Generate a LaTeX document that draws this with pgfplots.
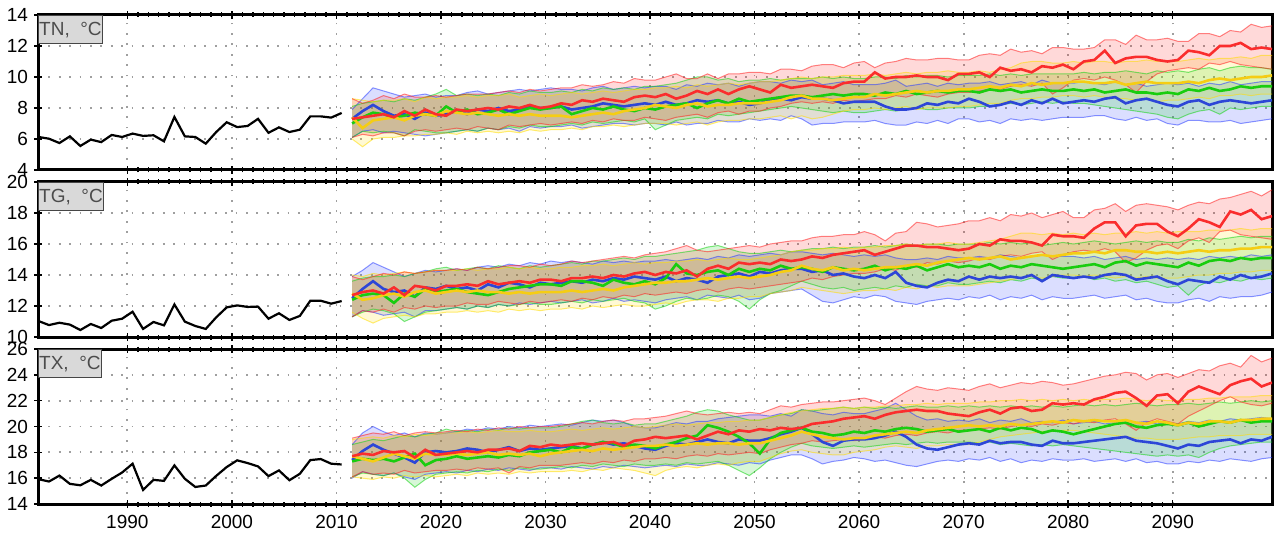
\documentclass[border=0pt]{standalone}
\usepackage{pgfplots}
\pgfplotsset{compat=1.18}
\usepackage{pgfplotstable}
\usepgfplotslibrary{fillbetween}
\usepackage{fontspec}
\setmainfont{Liberation Sans}

\definecolor{cb}{RGB}{45,70,215}
\definecolor{cg}{RGB}{25,205,15}
\definecolor{cy}{RGB}{245,205,20}
\definecolor{cr}{RGB}{250,45,45}
\definecolor{fb}{RGB}{40,60,255}
\definecolor{fg}{RGB}{20,210,20}
\definecolor{fy}{RGB}{255,220,0}
\definecolor{fr}{RGB}{255,30,30}

\newcommand\ser[2]{\pgfplotstableread[header=false,row sep=\\]{#2\\}#1}

% ---------- historical ----------
\ser\TNh{6.13\\6.02\\5.74\\6.17\\5.55\\5.96\\5.8\\6.26\\6.13\\6.35\\6.2\\6.24\\5.85\\7.42\\6.17\\6.13\\5.7\\6.45\\7.08\\6.77\\6.84\\7.3\\6.4\\6.75\\6.45\\6.6\\7.46\\7.46\\7.38\\7.68}
\ser\TGh{11.03\\10.77\\10.92\\10.8\\10.45\\10.84\\10.58\\11.05\\11.18\\11.63\\10.52\\10.97\\10.75\\12.1\\10.99\\10.71\\10.52\\11.27\\11.91\\12.04\\11.94\\11.96\\11.18\\11.53\\11.1\\11.36\\12.34\\12.34\\12.15\\12.32}
\ser\TXh{15.92\\15.74\\16.2\\15.56\\15.45\\15.87\\15.43\\15.95\\16.44\\17.12\\15.09\\15.87\\15.79\\16.99\\15.95\\15.32\\15.43\\16.18\\16.86\\17.38\\17.17\\16.91\\16.16\\16.6\\15.84\\16.34\\17.4\\17.48\\17.12\\17.06}

% ---------- TN ----------
\ser\TNbl{6.1\\6.5\\6.6\\6.4\\6.5\\6.4\\6.3\\6.2\\6.3\\6.4\\6.5\\6.6\\6.5\\6.7\\6.6\\6.7\\6.5\\6.8\\6.7\\6.8\\6.8\\6.9\\6.7\\6.8\\6.9\\7.0\\7.0\\6.9\\7.0\\7.0\\6.9\\7.1\\6.9\\7.0\\7.0\\7.2\\7.1\\7.1\\7.3\\7.2\\7.3\\7.2\\7.5\\7.3\\6.9\\7.0\\7.0\\7.1\\7.1\\7.1\\7.2\\7.0\\6.9\\6.9\\7.1\\7.0\\7.2\\7.0\\7.3\\7.3\\7.1\\7.2\\7.0\\7.3\\7.2\\7.3\\7.2\\7.3\\7.4\\7.4\\7.4\\7.5\\7.5\\7.3\\7.2\\7.4\\7.2\\7.3\\7.0\\6.9\\7.2\\7.2\\7.1\\7.1\\7.2\\7.0\\7.1\\7.2\\7.3}
\ser\TNbm{7.3\\7.8\\8.2\\7.8\\7.5\\7.6\\7.3\\7.7\\7.5\\7.6\\7.8\\7.6\\7.9\\7.8\\8.0\\7.8\\7.9\\8.1\\8.0\\8.0\\8.1\\7.9\\8.0\\8.1\\8.3\\8.2\\8.1\\8.2\\8.3\\8.2\\8.4\\8.2\\8.3\\8.5\\8.4\\8.5\\8.3\\8.4\\8.2\\8.3\\8.5\\8.6\\8.5\\8.7\\8.6\\8.6\\8.5\\8.3\\8.4\\8.4\\8.4\\8.1\\7.9\\7.9\\8.0\\8.3\\8.2\\8.4\\8.3\\8.6\\8.4\\8.1\\8.2\\8.4\\8.2\\8.5\\8.3\\8.6\\8.3\\8.4\\8.5\\8.4\\8.6\\8.7\\8.3\\8.5\\8.6\\8.4\\8.2\\8.1\\8.4\\8.5\\8.2\\8.4\\8.5\\8.4\\8.3\\8.4\\8.5}
\ser\TNbh{7.9\\8.6\\9.3\\9.1\\8.9\\8.7\\8.8\\8.9\\8.7\\8.8\\8.8\\9.0\\9.1\\8.9\\9.0\\9.1\\9.2\\9.1\\9.2\\9.3\\9.2\\9.2\\9.1\\9.3\\9.4\\9.2\\9.3\\9.4\\9.3\\9.4\\9.4\\9.2\\9.5\\9.4\\9.6\\9.5\\9.6\\9.4\\9.6\\9.7\\9.7\\9.6\\9.8\\9.7\\9.8\\9.5\\9.6\\9.7\\9.5\\9.5\\9.5\\9.6\\9.8\\9.4\\9.5\\9.6\\9.4\\9.6\\9.5\\9.6\\9.6\\9.7\\9.5\\9.6\\9.7\\9.5\\9.8\\9.6\\9.6\\9.6\\9.7\\9.6\\9.5\\9.7\\9.5\\9.6\\9.4\\9.5\\9.6\\9.5\\9.6\\9.4\\9.6\\9.5\\9.7\\9.5\\9.6\\9.7\\9.7}
\ser\TNgl{6.1\\6.5\\6.4\\6.5\\6.4\\6.2\\6.6\\6.5\\6.4\\6.4\\6.5\\6.6\\6.5\\6.7\\6.6\\6.8\\6.7\\6.9\\6.8\\6.8\\6.9\\7.0\\6.9\\7.1\\7.0\\7.1\\7.2\\7.1\\7.3\\6.6\\6.9\\7.2\\7.3\\7.4\\7.3\\7.6\\7.5\\7.6\\7.7\\7.8\\7.9\\8.0\\8.1\\8.0\\7.9\\7.8\\7.7\\7.8\\7.7\\7.7\\7.8\\7.9\\7.8\\7.9\\8.0\\7.9\\7.9\\8.0\\8.0\\8.0\\8.1\\8.1\\8.2\\8.3\\8.2\\8.3\\8.4\\8.3\\8.4\\8.3\\8.3\\8.2\\8.1\\8.0\\7.9\\7.8\\7.7\\7.6\\7.4\\7.3\\7.6\\7.8\\7.9\\7.6\\8.0\\7.9\\8.0\\8.1\\8.1}
\ser\TNgm{7.0\\7.4\\7.7\\7.6\\7.4\\7.5\\7.7\\7.6\\7.5\\8.1\\7.7\\7.9\\7.6\\7.7\\7.9\\7.6\\7.8\\8.0\\7.9\\8.0\\8.1\\7.6\\7.8\\8.0\\7.9\\8.1\\7.9\\7.8\\8.0\\7.9\\8.1\\8.2\\8.3\\8.0\\8.3\\8.5\\8.3\\8.6\\8.4\\8.5\\8.6\\8.7\\8.8\\8.8\\8.7\\8.8\\8.9\\8.8\\8.9\\8.9\\8.8\\9.0\\8.9\\9.1\\8.9\\9.0\\9.1\\9.0\\9.1\\9.1\\9.0\\9.2\\9.1\\9.2\\9.0\\9.1\\9.2\\9.1\\9.1\\9.2\\9.1\\9.2\\9.0\\9.1\\9.2\\9.0\\9.0\\8.9\\9.0\\8.9\\9.2\\9.1\\9.3\\9.1\\9.2\\9.4\\9.3\\9.4\\9.4}
\ser\TNgh{8.1\\8.3\\8.4\\8.5\\8.4\\8.6\\8.5\\8.7\\8.9\\9.2\\8.8\\8.9\\8.8\\8.9\\8.8\\9.0\\8.9\\9.1\\9.0\\9.0\\9.1\\9.0\\9.2\\9.1\\9.3\\9.2\\9.3\\9.2\\9.4\\9.4\\9.5\\9.6\\9.8\\10.0\\10.0\\9.8\\9.9\\9.7\\9.8\\9.8\\9.9\\9.8\\9.9\\9.9\\9.9\\10.0\\9.9\\10.0\\9.9\\9.9\\10.0\\10.0\\9.9\\10.1\\10.0\\10.1\\10.1\\10.0\\10.1\\10.1\\10.1\\10.2\\10.1\\10.2\\10.1\\10.2\\10.2\\10.2\\10.2\\10.2\\10.3\\10.2\\10.3\\10.3\\10.4\\10.3\\10.2\\10.4\\10.3\\10.4\\10.3\\10.5\\10.6\\10.4\\10.6\\10.7\\10.6\\10.6\\10.5}
\ser\TNyl{6.0\\5.5\\6.0\\6.1\\6.1\\6.2\\6.2\\6.3\\6.3\\6.4\\6.3\\6.5\\6.4\\6.5\\6.4\\6.5\\6.4\\6.6\\6.5\\6.6\\6.6\\6.7\\6.6\\6.8\\6.8\\6.9\\6.8\\6.9\\7.0\\7.0\\7.0\\6.9\\7.0\\7.1\\6.9\\7.1\\7.2\\7.2\\7.3\\7.3\\7.4\\7.5\\7.3\\7.5\\7.3\\7.4\\7.6\\7.8\\7.9\\7.9\\8.0\\7.9\\8.0\\8.1\\7.9\\8.0\\8.0\\8.0\\8.1\\8.1\\8.2\\8.3\\8.3\\8.5\\8.6\\8.6\\8.7\\8.7\\8.8\\8.8\\8.7\\8.8\\8.7\\8.6\\8.6\\8.5\\8.6\\8.4\\8.5\\8.5\\8.6\\8.7\\8.6\\8.8\\8.8\\8.9\\8.8\\8.9\\8.9}
\ser\TNym{7.4\\6.7\\7.2\\7.3\\7.4\\7.2\\7.5\\7.6\\7.5\\7.8\\7.7\\7.6\\7.7\\7.6\\7.5\\7.6\\7.5\\7.6\\7.5\\7.5\\7.5\\7.4\\7.5\\7.6\\7.7\\7.6\\7.8\\7.9\\8.0\\8.2\\8.1\\8.0\\8.2\\8.3\\8.1\\8.2\\8.2\\8.3\\8.3\\8.3\\8.4\\8.5\\8.7\\8.8\\8.6\\8.6\\8.5\\8.6\\8.7\\8.7\\8.9\\8.8\\8.9\\9.0\\9.1\\9.0\\9.1\\9.1\\9.2\\9.2\\9.3\\9.4\\9.3\\9.5\\9.4\\9.6\\9.5\\9.6\\9.6\\9.7\\9.7\\9.6\\9.6\\9.7\\9.5\\9.6\\9.7\\9.6\\9.6\\9.6\\9.7\\9.6\\9.8\\9.9\\9.8\\9.9\\10.0\\10.0\\10.1}
\ser\TNyh{8.6\\8.5\\8.4\\8.5\\8.5\\8.6\\8.4\\8.7\\8.6\\8.7\\8.7\\8.8\\8.7\\8.8\\8.8\\8.9\\8.7\\8.8\\8.9\\8.8\\8.9\\9.0\\8.9\\9.0\\9.1\\9.0\\9.1\\9.2\\9.2\\9.3\\9.3\\9.4\\9.3\\9.5\\9.4\\9.5\\9.6\\9.5\\9.6\\9.7\\9.7\\9.8\\9.9\\10.0\\9.9\\10.0\\10.0\\10.1\\10.1\\10.1\\10.2\\10.1\\10.2\\10.3\\10.2\\10.3\\10.3\\10.4\\10.3\\10.3\\10.4\\10.3\\10.5\\10.6\\10.9\\11.0\\11.0\\10.9\\10.9\\11.0\\10.9\\11.0\\11.0\\10.9\\11.0\\11.0\\11.1\\11.0\\11.0\\11.0\\11.1\\11.2\\11.1\\11.2\\11.2\\11.3\\11.2\\11.4\\11.4}
\ser\TNrl{6.1\\6.3\\6.2\\6.4\\6.4\\6.2\\6.5\\6.6\\6.5\\6.6\\6.7\\6.6\\6.8\\6.7\\6.6\\6.9\\6.8\\6.9\\7.0\\6.9\\7.0\\7.1\\7.0\\7.2\\7.1\\7.3\\7.2\\7.2\\7.4\\7.3\\7.2\\7.4\\7.5\\7.6\\7.4\\7.7\\7.8\\7.6\\7.8\\7.8\\8.0\\8.1\\8.3\\8.4\\8.3\\8.4\\8.3\\8.5\\8.4\\8.5\\8.6\\8.6\\8.8\\8.7\\8.9\\8.8\\8.7\\8.9\\9.0\\9.0\\9.1\\9.2\\9.2\\9.4\\9.5\\9.4\\9.6\\8.9\\9.3\\9.8\\9.9\\9.8\\10.0\\9.8\\9.5\\9.0\\9.7\\10.2\\10.4\\10.5\\10.6\\10.5\\10.9\\10.8\\11.0\\10.8\\10.7\\10.6\\10.5}
\ser\TNrm{7.3\\7.4\\7.5\\7.6\\7.4\\7.8\\7.5\\7.9\\7.6\\7.5\\7.9\\7.8\\7.9\\8.0\\7.9\\8.1\\8.0\\8.2\\8.0\\8.1\\8.3\\8.2\\8.5\\8.4\\8.6\\8.5\\8.4\\8.7\\8.8\\8.7\\8.9\\8.6\\8.8\\9.1\\8.9\\9.2\\8.9\\9.2\\9.4\\9.2\\9.0\\9.5\\9.3\\9.4\\9.5\\9.4\\9.3\\9.6\\9.7\\9.7\\10.3\\9.9\\10.0\\10.0\\10.1\\10.0\\10.0\\9.8\\10.2\\10.2\\10.3\\10.0\\10.6\\10.4\\10.5\\10.3\\10.7\\10.6\\10.8\\10.5\\11.0\\11.1\\11.7\\10.9\\11.2\\11.3\\11.3\\11.1\\11.0\\11.1\\11.7\\11.6\\11.4\\12.0\\12.0\\12.2\\11.8\\11.9\\11.8}
\ser\TNrh{8.6\\8.3\\8.5\\8.8\\8.6\\8.9\\8.7\\8.7\\8.8\\8.7\\8.8\\8.9\\8.9\\8.9\\9.0\\9.1\\9.0\\9.2\\9.1\\9.2\\9.3\\9.3\\9.5\\9.4\\9.5\\9.7\\9.6\\9.9\\9.8\\9.8\\10.0\\10.2\\9.9\\9.9\\10.2\\9.9\\10.2\\10.2\\10.3\\10.3\\10.2\\10.5\\10.5\\10.4\\10.7\\10.8\\10.8\\10.6\\10.9\\11.0\\10.6\\10.9\\11.0\\11.2\\11.1\\11.1\\11.2\\11.2\\11.1\\11.1\\11.4\\11.5\\11.4\\11.8\\11.6\\11.7\\11.5\\11.9\\11.9\\11.8\\11.8\\11.9\\12.4\\12.4\\12.1\\12.7\\12.4\\12.4\\12.5\\12.3\\12.3\\12.8\\12.8\\12.6\\13.0\\12.9\\13.4\\13.2\\13.3}

% ---------- TG ----------
\ser\TGbl{11.3\\11.7\\11.6\\11.4\\11.5\\11.6\\11.3\\11.7\\11.7\\11.8\\11.9\\11.8\\12.0\\11.9\\12.1\\12.0\\12.2\\12.1\\12.2\\12.3\\12.2\\12.3\\12.4\\12.2\\12.3\\12.5\\12.3\\12.4\\12.3\\12.2\\12.4\\12.5\\12.6\\12.4\\12.7\\12.6\\12.5\\12.7\\12.4\\12.5\\12.8\\12.9\\13.0\\13.1\\12.7\\12.3\\12.2\\12.4\\12.6\\12.5\\12.7\\12.6\\12.3\\12.2\\12.1\\12.3\\12.4\\12.5\\12.4\\12.6\\12.5\\12.7\\12.4\\12.6\\12.5\\12.7\\12.4\\12.6\\12.5\\12.5\\12.6\\12.7\\12.5\\12.6\\12.7\\12.4\\12.5\\12.3\\12.2\\12.2\\12.4\\12.5\\12.3\\12.6\\12.5\\12.6\\12.6\\12.7\\12.9}
\ser\TGbm{12.5\\13.1\\13.6\\13.1\\12.9\\13.0\\12.6\\13.2\\13.1\\13.3\\13.1\\13.2\\13.0\\13.4\\13.2\\13.5\\13.4\\13.2\\13.5\\13.4\\13.5\\13.6\\13.5\\13.7\\13.6\\13.8\\13.7\\13.9\\13.8\\13.7\\13.9\\13.6\\13.8\\13.7\\13.5\\13.9\\14.0\\14.1\\13.9\\14.2\\14.1\\14.3\\14.4\\14.4\\14.2\\14.3\\14.0\\14.1\\13.9\\13.8\\14.0\\13.8\\14.2\\13.5\\13.3\\13.2\\13.5\\13.7\\13.6\\13.9\\13.7\\13.9\\13.8\\13.9\\13.8\\14.0\\13.6\\14.0\\13.9\\13.8\\13.9\\13.8\\14.0\\14.1\\14.0\\13.7\\13.8\\13.9\\13.6\\13.4\\13.7\\13.6\\13.5\\13.9\\13.7\\14.0\\13.8\\13.9\\14.1}
\ser\TGbh{13.9\\14.3\\14.8\\14.5\\14.2\\13.9\\14.1\\14.3\\14.2\\14.3\\14.4\\14.3\\14.5\\14.6\\14.5\\14.7\\14.6\\14.8\\14.7\\14.9\\14.8\\14.9\\14.8\\14.7\\14.9\\14.8\\14.9\\14.8\\14.9\\14.9\\15.0\\14.9\\15.0\\15.1\\15.0\\15.2\\15.1\\15.3\\15.2\\15.3\\15.4\\15.3\\15.5\\15.5\\15.4\\15.3\\15.4\\15.3\\15.2\\15.3\\15.2\\15.3\\15.1\\15.0\\15.0\\15.1\\15.0\\15.2\\15.1\\15.1\\15.2\\15.1\\15.3\\15.2\\15.1\\15.2\\15.3\\15.2\\15.2\\15.2\\15.1\\15.2\\15.0\\15.1\\15.2\\15.0\\15.1\\15.0\\15.1\\15.0\\15.1\\15.0\\15.2\\15.1\\15.2\\15.1\\15.3\\15.2\\15.3}
\ser\TGgl{11.3\\11.6\\11.8\\11.7\\11.5\\11.0\\11.3\\11.6\\11.7\\11.8\\11.9\\11.8\\12.0\\11.9\\12.1\\12.0\\12.1\\12.2\\12.1\\12.1\\12.2\\12.3\\12.2\\12.4\\12.3\\12.4\\12.5\\12.3\\12.2\\11.8\\12.0\\12.3\\12.5\\12.4\\12.5\\12.7\\12.6\\12.3\\11.8\\12.4\\12.8\\13.0\\13.3\\13.6\\13.4\\13.2\\13.1\\13.2\\13.0\\13.1\\13.2\\13.1\\13.3\\13.2\\13.4\\13.3\\13.3\\13.5\\13.4\\13.4\\13.5\\13.6\\13.5\\13.7\\13.6\\13.8\\13.7\\13.9\\13.8\\13.8\\13.9\\13.7\\13.8\\13.6\\13.7\\13.5\\13.6\\13.4\\13.2\\13.3\\12.7\\13.3\\13.6\\13.5\\13.7\\13.6\\13.8\\13.7\\13.8}
\ser\TGgm{12.4\\12.7\\12.8\\12.7\\12.2\\12.8\\12.6\\13.1\\12.9\\13.0\\13.1\\12.9\\12.8\\12.7\\12.9\\13.1\\13.2\\13.3\\13.4\\13.4\\13.3\\13.6\\13.6\\13.5\\13.3\\13.7\\13.5\\13.4\\13.6\\13.4\\13.8\\14.7\\14.1\\14.0\\14.2\\14.3\\14.0\\14.4\\14.2\\14.4\\14.3\\14.6\\14.4\\14.5\\14.4\\14.2\\14.5\\14.4\\14.3\\14.4\\14.6\\14.3\\14.5\\14.4\\14.6\\14.3\\14.5\\14.7\\14.5\\14.6\\14.5\\14.7\\14.4\\14.6\\14.5\\14.7\\14.6\\14.5\\14.4\\14.5\\14.6\\14.7\\14.5\\14.8\\14.9\\14.6\\14.8\\14.7\\14.6\\14.5\\14.8\\14.6\\14.9\\15.0\\14.9\\15.1\\15.0\\15.1\\15.1}
\ser\TGgh{13.6\\13.8\\13.9\\13.9\\14.0\\13.9\\14.1\\14.2\\14.4\\14.5\\14.3\\14.4\\14.5\\14.4\\14.6\\14.5\\14.4\\14.6\\14.5\\14.6\\14.7\\14.8\\14.7\\14.9\\14.9\\15.0\\15.1\\15.0\\15.2\\15.2\\15.3\\15.4\\15.5\\15.6\\15.8\\15.9\\15.7\\15.5\\15.4\\15.4\\15.5\\15.6\\15.5\\15.6\\15.7\\15.7\\15.8\\15.7\\15.8\\15.8\\15.9\\15.8\\15.9\\16.0\\15.9\\16.0\\16.0\\15.9\\16.0\\16.0\\16.0\\16.1\\16.0\\16.1\\16.0\\16.1\\15.9\\16.0\\16.1\\16.0\\16.1\\16.2\\16.1\\16.0\\16.1\\16.2\\16.1\\16.2\\16.1\\16.1\\16.3\\16.2\\16.4\\16.3\\16.4\\16.5\\16.4\\16.5\\16.5}
\ser\TGyl{11.6\\11.2\\10.9\\11.2\\11.3\\11.4\\11.3\\11.5\\11.5\\11.6\\11.6\\11.7\\11.6\\11.7\\11.6\\11.8\\11.7\\11.8\\11.7\\11.8\\11.8\\11.9\\11.8\\12.0\\11.9\\12.0\\12.1\\12.0\\12.0\\12.1\\12.2\\12.1\\12.3\\12.4\\12.4\\12.3\\12.5\\12.5\\12.6\\12.6\\12.8\\12.9\\13.0\\13.2\\13.1\\13.0\\12.9\\12.8\\12.9\\13.0\\13.0\\13.1\\13.0\\13.2\\13.1\\13.3\\13.2\\13.3\\13.3\\13.3\\13.4\\13.5\\13.6\\13.7\\13.8\\13.9\\13.8\\13.9\\14.0\\14.0\\13.9\\14.0\\13.9\\13.8\\13.9\\13.8\\13.9\\13.8\\13.8\\13.8\\13.9\\14.0\\14.0\\14.1\\14.1\\14.2\\14.2\\14.3\\14.3}
\ser\TGym{12.8\\12.4\\12.5\\12.7\\12.8\\12.6\\12.9\\13.0\\12.8\\12.9\\13.0\\12.9\\13.0\\12.9\\12.9\\12.8\\12.9\\12.8\\12.9\\12.9\\12.9\\13.0\\12.9\\13.0\\13.1\\13.0\\13.2\\13.3\\13.4\\13.5\\13.5\\13.6\\13.6\\13.7\\13.8\\13.7\\13.8\\13.9\\13.8\\13.9\\14.0\\14.2\\14.3\\14.6\\14.4\\14.3\\14.5\\14.3\\14.4\\14.3\\14.4\\14.5\\14.5\\14.6\\14.7\\14.6\\14.8\\14.9\\15.0\\15.1\\15.0\\15.1\\15.2\\15.0\\15.1\\15.2\\15.3\\15.2\\15.3\\15.4\\15.4\\15.5\\15.4\\15.6\\15.6\\15.5\\15.5\\15.4\\15.5\\15.4\\15.5\\15.6\\15.5\\15.6\\15.6\\15.7\\15.7\\15.8\\15.8}
\ser\TGyh{14.0\\13.9\\14.1\\14.0\\14.1\\14.2\\14.1\\14.2\\14.3\\14.3\\14.3\\14.4\\14.3\\14.4\\14.4\\14.5\\14.4\\14.5\\14.4\\14.4\\14.5\\14.5\\14.6\\14.6\\14.7\\14.6\\14.7\\14.8\\14.7\\14.8\\14.8\\14.9\\14.9\\15.0\\14.9\\15.0\\15.1\\15.0\\15.0\\15.1\\15.2\\15.3\\15.5\\15.6\\15.6\\15.7\\15.7\\15.8\\15.7\\15.8\\15.8\\15.9\\15.9\\16.0\\15.9\\16.0\\16.0\\16.1\\16.0\\16.0\\16.1\\16.2\\16.3\\16.5\\16.7\\16.7\\16.6\\16.7\\16.6\\16.7\\16.6\\16.7\\16.6\\16.7\\16.7\\16.8\\16.7\\16.8\\16.7\\16.8\\16.8\\16.8\\16.9\\16.9\\16.9\\17.0\\16.9\\17.0\\17.0}
\ser\TGrl{11.3\\11.7\\11.6\\11.8\\11.6\\11.9\\11.8\\12.0\\11.9\\12.0\\12.0\\12.2\\12.1\\12.1\\12.3\\12.2\\12.1\\12.3\\12.2\\12.3\\12.4\\12.3\\12.5\\12.4\\12.6\\12.5\\12.7\\12.6\\12.8\\12.7\\12.8\\12.9\\12.8\\13.0\\13.1\\12.9\\13.1\\13.2\\13.1\\13.2\\13.3\\13.4\\13.5\\13.6\\13.8\\13.7\\13.9\\14.0\\14.1\\14.1\\14.2\\14.4\\14.3\\14.6\\14.5\\14.8\\14.7\\14.9\\14.8\\14.9\\15.1\\15.0\\15.2\\15.3\\15.2\\15.4\\15.5\\15.0\\15.3\\15.5\\15.6\\15.5\\15.7\\15.5\\14.8\\15.1\\15.6\\15.9\\16.0\\15.7\\16.2\\16.4\\16.1\\16.8\\16.9\\16.6\\16.5\\16.4\\16.3}
\ser\TGrm{12.7\\12.9\\13.0\\12.8\\13.2\\12.7\\13.3\\13.2\\13.0\\13.3\\13.3\\13.4\\13.3\\13.6\\13.4\\13.5\\13.6\\13.5\\13.7\\13.7\\13.6\\13.8\\13.8\\13.9\\13.8\\14.0\\13.9\\14.1\\14.2\\14.0\\14.2\\14.1\\14.3\\13.9\\14.4\\14.6\\14.4\\14.8\\14.7\\14.8\\14.7\\15.0\\14.9\\15.0\\15.2\\15.1\\15.3\\15.4\\15.5\\15.6\\15.3\\15.5\\15.7\\15.9\\15.9\\15.8\\15.8\\15.7\\15.6\\15.7\\16.0\\15.9\\16.3\\16.2\\16.2\\16.1\\15.9\\16.6\\16.5\\16.5\\16.4\\17.0\\17.4\\17.4\\16.5\\17.2\\17.3\\17.3\\16.8\\16.5\\17.0\\17.6\\17.4\\17.1\\18.1\\17.9\\18.2\\17.6\\17.8}
\ser\TGrh{13.9\\13.7\\13.9\\14.1\\14.0\\14.2\\14.1\\14.2\\14.3\\14.3\\14.4\\14.3\\14.5\\14.4\\14.5\\14.6\\14.6\\14.5\\14.7\\14.6\\14.7\\14.9\\14.8\\14.9\\15.0\\15.1\\15.2\\15.1\\15.3\\15.4\\15.5\\15.7\\15.9\\15.6\\15.5\\15.6\\15.7\\15.8\\15.9\\15.8\\16.0\\16.1\\16.2\\16.2\\16.4\\16.5\\16.5\\16.6\\16.6\\16.8\\16.6\\16.2\\16.7\\16.8\\17.4\\17.3\\17.1\\17.2\\17.3\\17.5\\17.5\\17.7\\17.5\\17.9\\17.8\\18.0\\17.7\\17.9\\18.1\\17.7\\17.7\\18.2\\18.3\\18.6\\18.1\\18.5\\18.6\\18.5\\18.4\\18.2\\18.5\\18.7\\18.6\\18.9\\19.0\\19.2\\19.4\\19.1\\19.5}

% ---------- TX ----------
\ser\TXbl{16.0\\16.5\\16.3\\16.2\\16.4\\16.1\\15.9\\16.3\\16.4\\16.5\\16.4\\16.6\\16.5\\16.7\\16.6\\16.8\\16.7\\16.6\\16.8\\16.8\\16.7\\16.9\\16.8\\16.7\\16.9\\16.8\\17.0\\16.9\\16.8\\16.9\\17.0\\16.9\\17.1\\17.0\\17.0\\17.2\\17.1\\17.0\\17.2\\17.1\\17.4\\17.6\\17.8\\17.8\\17.5\\17.1\\17.3\\17.4\\17.6\\17.5\\17.3\\17.4\\17.2\\17.0\\16.9\\17.1\\17.3\\17.4\\17.3\\17.5\\17.4\\17.6\\17.3\\17.5\\17.2\\17.4\\17.3\\17.5\\17.4\\17.4\\17.5\\17.3\\17.4\\17.5\\17.3\\17.5\\17.2\\17.3\\17.1\\17.1\\17.3\\17.2\\17.4\\17.3\\17.5\\17.4\\17.3\\17.5\\17.6}
\ser\TXbm{17.4\\18.1\\18.6\\18.2\\17.9\\17.6\\17.2\\18.0\\18.1\\18.0\\18.1\\18.3\\18.2\\18.0\\18.2\\18.4\\18.1\\18.3\\18.2\\18.3\\18.4\\18.5\\18.3\\18.6\\18.8\\18.6\\18.7\\18.5\\18.3\\18.2\\18.5\\18.7\\18.6\\18.8\\19.0\\18.8\\18.7\\19.0\\18.9\\18.9\\19.1\\19.4\\19.6\\19.9\\19.4\\18.8\\18.5\\18.9\\19.0\\19.0\\19.1\\19.3\\19.6\\19.2\\18.6\\18.3\\18.2\\18.4\\18.6\\18.7\\18.6\\18.9\\18.7\\18.8\\18.8\\18.6\\18.5\\18.9\\18.7\\18.7\\18.8\\18.9\\19.0\\19.1\\19.2\\18.9\\18.8\\18.7\\18.5\\18.3\\18.6\\18.5\\18.8\\18.9\\19.0\\18.7\\19.0\\18.9\\19.2}
\ser\TXbh{18.6\\19.5\\20.0\\19.6\\19.3\\19.5\\19.2\\19.5\\19.4\\19.5\\19.6\\19.8\\19.7\\19.9\\19.8\\20.0\\19.9\\20.1\\20.0\\20.1\\20.2\\20.1\\20.3\\20.5\\20.4\\20.5\\20.3\\20.0\\19.9\\19.9\\20.1\\20.3\\20.2\\20.4\\20.4\\20.6\\20.7\\20.8\\20.9\\20.9\\20.8\\21.0\\20.8\\21.3\\21.2\\21.0\\20.9\\21.1\\21.0\\21.0\\21.2\\21.4\\21.8\\21.3\\20.8\\20.5\\20.6\\20.4\\20.5\\20.4\\20.6\\20.3\\20.5\\20.4\\20.6\\20.3\\20.4\\20.3\\20.5\\20.2\\20.3\\20.4\\20.2\\20.3\\20.5\\20.3\\20.4\\20.2\\20.3\\20.2\\20.4\\20.3\\20.5\\20.4\\20.6\\20.5\\20.6\\20.7\\20.6}
\ser\TXgl{16.1\\16.4\\16.3\\16.2\\16.4\\16.0\\15.3\\15.9\\16.3\\16.4\\16.5\\16.4\\16.6\\16.5\\16.7\\16.6\\16.8\\16.7\\16.7\\16.8\\16.9\\16.8\\17.0\\16.9\\17.1\\17.0\\16.9\\17.1\\17.0\\17.0\\17.1\\17.0\\17.2\\17.1\\17.2\\17.3\\17.0\\16.6\\16.2\\16.8\\17.5\\18.0\\18.4\\18.7\\18.5\\18.4\\18.3\\18.4\\18.5\\18.4\\18.5\\18.6\\18.7\\18.6\\18.7\\18.8\\18.7\\18.8\\18.8\\18.8\\18.7\\18.8\\18.6\\18.7\\18.6\\18.5\\18.6\\18.5\\18.6\\18.5\\18.4\\18.3\\18.2\\18.1\\18.0\\17.9\\17.8\\17.7\\17.8\\17.7\\17.8\\17.6\\18.0\\18.3\\18.5\\18.6\\18.7\\18.8\\18.8}
\ser\TXgm{17.3\\17.5\\17.4\\17.5\\17.3\\17.6\\17.9\\17.0\\17.4\\17.5\\17.7\\17.5\\17.6\\17.7\\17.6\\17.8\\17.7\\18.0\\18.1\\18.2\\18.0\\18.4\\18.3\\18.6\\18.8\\18.7\\18.4\\18.6\\18.5\\18.3\\18.6\\18.8\\19.1\\19.3\\20.1\\19.9\\19.6\\19.2\\18.7\\17.9\\19.0\\19.5\\19.7\\19.9\\19.6\\19.5\\19.3\\19.4\\19.6\\19.5\\19.7\\19.6\\19.8\\19.9\\19.8\\19.6\\19.7\\19.8\\19.6\\19.7\\19.8\\19.6\\19.9\\19.7\\19.9\\19.8\\19.5\\19.7\\19.6\\19.4\\19.6\\19.8\\20.0\\20.2\\20.3\\20.0\\19.9\\20.1\\20.2\\20.1\\20.3\\20.0\\20.2\\20.4\\20.3\\20.5\\20.3\\20.4\\20.4}
\ser\TXgh{18.6\\18.8\\19.0\\18.9\\19.1\\19.3\\19.2\\19.4\\19.5\\19.8\\19.6\\19.7\\19.6\\19.8\\19.7\\19.9\\19.8\\19.9\\19.9\\19.9\\20.0\\20.2\\20.4\\20.5\\20.3\\20.2\\20.3\\20.1\\20.2\\20.2\\20.4\\20.6\\20.8\\21.1\\21.3\\21.2\\20.9\\20.7\\20.5\\20.5\\20.7\\20.9\\21.0\\21.3\\21.2\\21.3\\21.4\\21.5\\21.4\\21.5\\21.4\\21.5\\21.4\\21.5\\21.6\\21.5\\21.5\\21.6\\21.5\\21.6\\21.5\\21.6\\21.5\\21.6\\21.5\\21.6\\21.5\\21.6\\21.5\\21.6\\21.7\\21.6\\21.7\\21.6\\21.7\\21.8\\21.7\\21.6\\21.7\\21.7\\21.8\\21.7\\21.8\\21.9\\21.8\\21.9\\22.0\\21.9\\22.0}
\ser\TXyl{16.1\\16.0\\15.9\\16.1\\16.0\\16.2\\16.1\\16.2\\16.1\\16.2\\16.3\\16.2\\16.4\\16.3\\16.4\\16.3\\16.5\\16.4\\16.5\\16.5\\16.5\\16.6\\16.5\\16.7\\16.6\\16.8\\16.7\\16.6\\16.4\\16.2\\16.6\\16.8\\16.9\\16.8\\17.0\\17.1\\17.0\\17.2\\17.3\\17.3\\17.6\\17.9\\18.1\\18.2\\18.0\\17.9\\17.8\\17.8\\18.0\\18.1\\18.2\\18.4\\18.5\\18.4\\18.3\\18.5\\18.5\\18.6\\18.6\\18.6\\18.8\\19.0\\19.2\\19.3\\19.4\\19.5\\19.6\\19.6\\19.7\\19.7\\19.6\\19.5\\19.4\\19.3\\19.2\\19.1\\19.1\\19.0\\19.0\\19.0\\19.1\\19.2\\19.2\\19.3\\19.3\\19.3\\19.4\\19.4\\19.4}
\ser\TXym{17.7\\17.5\\17.3\\17.6\\17.9\\17.7\\17.5\\17.9\\17.8\\17.8\\17.9\\17.8\\17.9\\18.0\\17.8\\17.9\\17.8\\17.9\\17.7\\17.9\\18.0\\18.1\\18.2\\18.1\\18.3\\18.2\\18.3\\18.4\\18.5\\18.5\\18.6\\18.5\\18.6\\18.7\\18.6\\18.7\\18.7\\18.6\\18.7\\18.7\\18.9\\19.1\\19.3\\19.6\\19.4\\19.2\\19.1\\19.0\\19.1\\19.1\\19.3\\19.4\\19.5\\19.6\\19.5\\19.7\\19.8\\19.9\\20.0\\20.1\\20.0\\20.1\\20.0\\20.2\\20.1\\20.2\\20.3\\20.4\\20.3\\20.5\\20.4\\20.5\\20.4\\20.4\\20.5\\20.3\\20.2\\20.4\\20.3\\20.1\\20.3\\20.2\\20.4\\20.4\\20.3\\20.5\\20.5\\20.6\\20.6}
\ser\TXyh{19.0\\19.1\\19.2\\19.1\\19.3\\19.2\\19.4\\19.3\\19.4\\19.5\\19.5\\19.6\\19.5\\19.6\\19.7\\19.6\\19.6\\19.7\\19.6\\19.6\\19.7\\19.8\\19.7\\19.8\\19.9\\19.8\\19.9\\20.0\\19.9\\20.0\\20.1\\20.2\\20.1\\20.2\\20.3\\20.3\\20.4\\20.4\\20.5\\20.5\\20.7\\20.9\\21.1\\21.2\\21.3\\21.4\\21.4\\21.5\\21.4\\21.5\\21.5\\21.6\\21.6\\21.7\\21.7\\21.8\\21.7\\21.8\\21.8\\21.8\\21.9\\21.9\\22.0\\22.0\\22.1\\22.0\\22.1\\22.0\\22.1\\22.0\\22.1\\22.0\\22.1\\22.1\\22.2\\22.1\\22.0\\22.1\\22.0\\22.0\\22.1\\22.1\\22.2\\22.2\\22.3\\22.3\\22.3\\22.4\\22.4}
\ser\TXrl{16.1\\16.5\\16.3\\16.4\\16.3\\16.6\\16.4\\16.5\\16.6\\16.6\\16.7\\16.6\\16.8\\16.7\\16.8\\16.4\\16.9\\16.8\\17.0\\17.0\\17.0\\17.1\\17.2\\17.1\\17.3\\17.2\\17.4\\17.3\\17.5\\17.5\\17.6\\17.5\\17.7\\17.8\\17.7\\17.9\\17.8\\17.9\\18.0\\17.9\\18.2\\18.4\\18.6\\18.7\\18.9\\18.8\\18.9\\19.0\\18.9\\19.0\\19.2\\19.1\\19.3\\19.4\\19.3\\19.5\\19.6\\19.5\\19.7\\19.7\\19.8\\19.9\\19.8\\20.0\\20.1\\20.0\\20.2\\20.1\\20.3\\20.2\\20.4\\20.3\\20.5\\20.6\\20.2\\19.7\\20.3\\20.6\\20.4\\20.2\\20.8\\21.2\\21.6\\22.0\\22.3\\21.9\\21.7\\21.6\\21.8}
\ser\TXrm{17.7\\17.9\\17.8\\18.1\\18.0\\18.1\\17.6\\18.2\\17.8\\17.9\\18.0\\18.1\\18.0\\18.2\\18.2\\18.3\\18.1\\18.5\\18.4\\18.6\\18.5\\18.6\\18.7\\18.6\\18.7\\18.8\\18.5\\18.9\\19.0\\19.2\\19.1\\19.2\\19.3\\19.0\\19.3\\19.6\\19.4\\19.7\\19.6\\19.8\\19.7\\19.9\\19.8\\19.9\\20.2\\20.3\\20.4\\20.6\\20.7\\20.8\\20.6\\20.9\\21.1\\21.2\\21.3\\21.2\\21.2\\21.0\\20.9\\20.8\\21.1\\21.3\\21.0\\21.4\\21.5\\21.2\\21.3\\21.8\\21.7\\21.8\\21.7\\22.1\\22.3\\22.6\\22.7\\22.2\\21.6\\22.4\\22.5\\21.8\\22.7\\23.1\\22.8\\22.5\\23.2\\23.5\\23.7\\23.1\\23.4}
\ser\TXrh{19.1\\19.3\\19.5\\19.4\\19.6\\19.3\\19.5\\19.6\\19.5\\19.6\\19.7\\19.6\\19.8\\19.7\\19.9\\19.8\\20.0\\19.9\\20.0\\20.0\\20.1\\20.2\\20.3\\20.2\\20.4\\20.5\\20.4\\20.6\\20.6\\20.7\\20.8\\21.0\\21.2\\21.0\\20.9\\21.0\\21.1\\21.0\\21.1\\21.0\\21.3\\21.6\\21.5\\21.7\\21.8\\21.9\\21.9\\22.0\\22.1\\22.2\\22.0\\21.7\\22.2\\22.7\\23.1\\22.9\\22.8\\23.0\\22.9\\22.8\\23.1\\23.3\\23.0\\23.2\\23.4\\23.3\\23.5\\23.4\\23.2\\23.3\\23.5\\23.7\\23.9\\24.0\\24.2\\24.1\\23.6\\24.0\\24.1\\23.8\\24.1\\24.4\\24.3\\24.7\\24.9\\24.6\\25.5\\25.0\\25.3}

\pgfplotsset{
  base/.style={
    scale only axis, width=617pt, height=77.5pt, anchor=north west,
    xmin=1981.45, xmax=2099.5,
    xtick={1990,2000,...,2090}, minor x tick num=9,
    xtick pos=both, ytick pos=left,
    tick align=center,
    major tick length=4pt, minor tick length=2.5pt,
    tick style={black, line width=0.7pt},
    axis line style={line width=1.5pt},
    xmajorgrids, ymajorgrids,
    major grid style={gray!75, line width=0.9pt, dash pattern=on 0.9pt off 4.3pt},
    ticklabel style={font=\fontsize{9.5}{10}\selectfont},
    yticklabel style={xshift=0.5pt},
    /pgf/number format/assume math mode=true,
    /pgf/number format/1000 sep={},
  },
}
\tikzset{
  lbl/.style={anchor=north west, fill=gray!30, draw=gray!55!black, line width=0.6pt,
    minimum width=31pt, minimum height=14pt, inner xsep=0.3pt, inner ysep=1pt, text=black!70,
    font=\fontsize{9.5}{10}\selectfont},
}
\newcommand\band[4]{%
  \addplot[#4, line width=0.5pt, draw opacity=0.55, name path=#1a] table[x expr=\coordindex+2011.5, y index=0]{#2};
  \addplot[#4, line width=0.5pt, draw opacity=0.55, name path=#1b] table[x expr=\coordindex+2011.5, y index=0]{#3};
  \addplot[fill=#4, fill opacity=0.17, draw=none] fill between[of=#1a and #1b];
}
\newcommand\mean[2]{\addplot[#2, line width=1.3pt] table[x expr=\coordindex+2011.5, y index=0]{#1};}
\newcommand\hist[1]{\addplot[black, line width=1.1pt] table[x expr=\coordindex+1981.5, y index=0]{#1};}

\begin{document}
\begin{tikzpicture}
% ----- TN -----
\begin{axis}[base, at={(19pt,-7.5pt)}, ymin=4, ymax=14, ytick={4,6,...,14}, xticklabels={}]
\hist{\TNh}
\band{tnb}{\TNbl}{\TNbh}{fb}
\band{tng}{\TNgl}{\TNgh}{fg}
\band{tny}{\TNyl}{\TNyh}{fy}
\band{tnr}{\TNrl}{\TNrh}{fr}
\mean{\TNbm}{cb}
\mean{\TNgm}{cg}
\mean{\TNym}{cy}
\mean{\TNrm}{cr}
\node[lbl] at (rel axis cs:0,1) {TN,\ \ °C};
\end{axis}
% ----- TG -----
\begin{axis}[base, at={(19pt,-91pt)}, ymin=10, ymax=20, ytick={10,12,...,20}, xticklabels={}]
\hist{\TGh}
\band{tgb}{\TGbl}{\TGbh}{fb}
\band{tgg}{\TGgl}{\TGgh}{fg}
\band{tgy}{\TGyl}{\TGyh}{fy}
\band{tgr}{\TGrl}{\TGrh}{fr}
\mean{\TGbm}{cb}
\mean{\TGgm}{cg}
\mean{\TGym}{cy}
\mean{\TGrm}{cr}
\node[lbl] at (rel axis cs:0,1) {TG,\ \ °C};
\end{axis}
% ----- TX -----
\begin{axis}[base, at={(19pt,-174.5pt)}, ymin=14, ymax=26, ytick={14,16,...,26}]
\hist{\TXh}
\band{txb}{\TXbl}{\TXbh}{fb}
\band{txg}{\TXgl}{\TXgh}{fg}
\band{txy}{\TXyl}{\TXyh}{fy}
\band{txr}{\TXrl}{\TXrh}{fr}
\mean{\TXbm}{cb}
\mean{\TXgm}{cg}
\mean{\TXym}{cy}
\mean{\TXrm}{cr}
\node[lbl] at (rel axis cs:0,1) {TX,\ \ °C};
\end{axis}
\path (0,0) rectangle (638.5pt,-265.5pt);
\end{tikzpicture}
\end{document}
